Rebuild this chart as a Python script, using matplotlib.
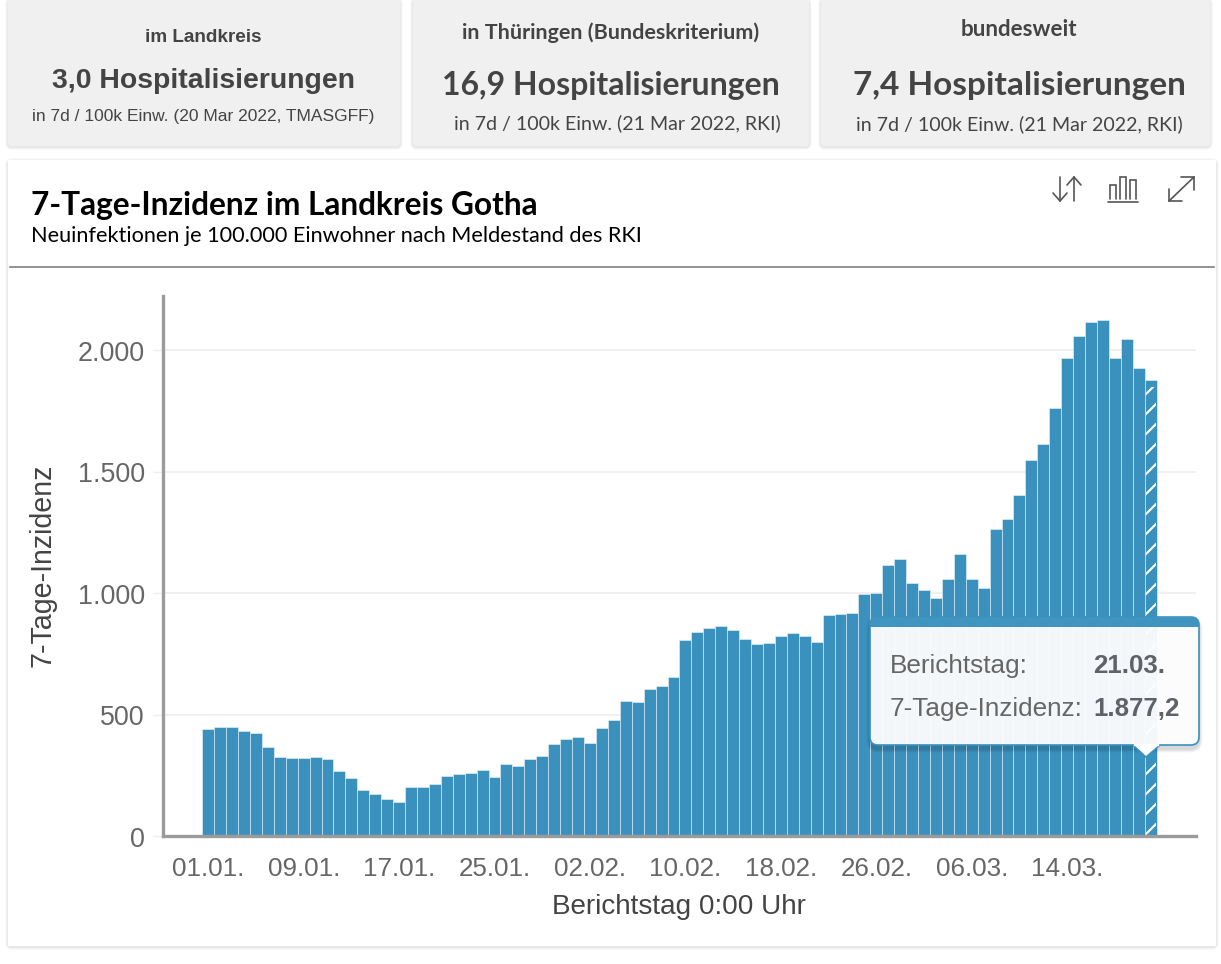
# 7-Tage-Inzidenz Landkreis Gotha, dashboard view with kpi cards on top
import matplotlib
matplotlib.use("Agg")
from matplotlib import pyplot as plt
from matplotlib.patches import FancyBboxPatch, Polygon, Rectangle

# chart data
dates = ["01.01.", "09.01.", "17.01.", "25.01.", "02.02.", "10.02.", "18.02.", "26.02.", "06.03.", "14.03."]
date_positions = [0, 8, 16, 24, 32, 40, 48, 56, 64, 72]
incidence = [
    440, 450, 449, 431, 425, 367, 325, 322, 319, 324,
    315, 268, 239, 190, 174, 153, 138, 203, 200, 215,
    246, 254, 258, 271, 243, 296, 289, 315, 328, 378,
    399, 408, 383, 444, 479, 556, 550, 603, 619, 653,
    806, 841, 856, 863, 849, 810, 790, 793, 825, 837,
    822, 799, 911, 915, 919, 995, 1001, 1114, 1138, 1041,
    1011, 978, 1056, 1160, 1056, 1019, 1262, 1305, 1403, 1548,
    1615, 1760, 1967, 2059, 2117, 2122, 1967, 2047, 1927, 1877.2,
]
y_ticks = [0, 500, 1000, 1500, 2000]
y_tick_labels = ["0", "500", "1.000", "1.500", "2.000"]

# kpi cards
card_heads = ["im Landkreis", "in Thüringen (Bundeskriterium)", "bundesweit"]
card_values = ["3,0 Hospitalisierungen", "16,9 Hospitalisierungen", "7,4 Hospitalisierungen"]
card_notes = ["in 7d / 100k Einw. (20 Mar 2022, TMASGFF)",
              "in 7d / 100k Einw. (21 Mar 2022, RKI)",
              "in 7d / 100k Einw. (21 Mar 2022, RKI)"]

W, H = 1221, 965
DPI = 120  # hatch spacing depends on the dpi, this gives about 20px with //
BLUE = "#3a91bd"
SANS = "Liberation Sans"

fig = plt.figure(figsize=(W / DPI, H / DPI), dpi=DPI, facecolor="white")

# background layer in pixel coordinates
bg = fig.add_axes([0, 0, 1, 1], zorder=0)
bg.set_xlim(0, W)
bg.set_ylim(H, 0)
bg.axis("off")


def shadow(ax, x0, y0, x1, y1, rounding=3, steps=4, alpha=0.022, zorder=1):
    for k in range(steps, 0, -1):
        ax.add_patch(FancyBboxPatch((x0 - k * 0.7, y0 - k * 0.7 + 1), x1 - x0 + k * 1.4, y1 - y0 + k * 1.4,
                                    boxstyle=f"round,pad=0,rounding_size={rounding + k}",
                                    fc="black", ec="none", alpha=alpha, zorder=zorder))


# cards
card_boxes = [(8, 400), (413, 809), (821, 1210)]
card_y = [(37, 81, 117), (33, 85, 123), (30, 86, 124)]
head_styles = [(SANS, 11.35, 17.0, 10.4), ("Lato", 12.9, 19.2, 11.8), ("Lato", 13.4, 20.0, 11.8)]
value_x = [203.5, 611, 1019]
note_x = [203.5, 617, 1019]
head_x = [203.5, 611, 1019]
for i in range(3):
    x0, x1 = card_boxes[i]
    shadow(bg, x0, 0, x1, 147)
    bg.add_patch(FancyBboxPatch((x0, -4), x1 - x0, 151, boxstyle="round,pad=0,rounding_size=3",
                                fc="#f0f0f0", ec="none", zorder=2))
    fam, s_head, s_val, s_note = head_styles[i]
    bg.text(head_x[i], card_y[i][0], card_heads[i], family=fam, weight="bold", fontsize=s_head,
            color="#444444", ha="center", va="center", zorder=3)
    bg.text(value_x[i], card_y[i][1], card_values[i], family=fam, weight="bold", fontsize=s_val,
            color="#444444", ha="center", va="center", zorder=3)
    bg.text(note_x[i], card_y[i][2], card_notes[i], family=SANS if i == 0 else "Lato", fontsize=s_note,
            color="#444444", ha="center", va="center", zorder=3)

# main panel
shadow(bg, 8, 161, 1216, 947)
bg.add_patch(Rectangle((8, 161), 1208, 786, fc="white", ec="none", zorder=2))
bg.plot([10, 1214], [268, 268], color="#808080", lw=1.0, zorder=3)
bg.text(31, 205, "7-Tage-Inzidenz im Landkreis Gotha", family="Lato", weight="bold", fontsize=18.95,
        color="black", ha="left", va="center", zorder=3)
bg.text(31, 236, "Neuinfektionen je 100.000 Einwohner nach Meldestand des RKI", family="Lato", fontsize=12.94,
        color="black", ha="left", va="center", zorder=3)

# icons top right
ic = dict(color="#555555", lw=1.0, zorder=3, solid_capstyle="round", solid_joinstyle="miter")
bg.plot([1060, 1060], [178, 202], **ic)
bg.plot([1053, 1060, 1067], [194, 202, 194], **ic)
bg.plot([1074, 1074], [202, 178], **ic)
bg.plot([1067, 1074, 1081], [186, 178, 186], **ic)
bg.plot([1108, 1138], [203, 203], **ic)
bg.plot([1110, 1110, 1116, 1116], [200, 186, 186, 200], **ic)
bg.plot([1120, 1120, 1126, 1126], [200, 178, 178, 200], **ic)
bg.plot([1130, 1130, 1136, 1136], [200, 181, 181, 200], **ic)
bg.plot([1169, 1194], [202, 178], **ic)
bg.plot([1181, 1194, 1194], [178, 178, 191], **ic)
bg.plot([1169, 1169, 1182], [190, 202, 202], **ic)

# chart axes, placed so day i sits at 208.2 + i * step pixels
step = 11.93
left, right, top, bottom = 163, 1196, 297, 837
ax = fig.add_axes([left / W, 1 - bottom / H, (right - left) / W, (bottom - top) / H], zorder=1)
ax.patch.set_alpha(0)
ax.set_xlim((left - 208.2) / step, (right - 208.2) / step)
ax.set_ylim(0, (bottom - top) * 500 / 121.5)

days = list(range(len(incidence)))
plt.rcParams["hatch.linewidth"] = 1.3
ax.bar(days, incidence, width=1.0, color=BLUE, edgecolor=(1, 1, 1, 0.45), linewidth=0.6, zorder=2)
ax.bar(days[-1:], [v - 30 for v in incidence[-1:]], width=0.86, color=BLUE, edgecolor="white", hatch="//",
       linewidth=0, zorder=2.5)

ax.set_yticks(y_ticks, y_tick_labels)
ax.set_xticks(date_positions, dates)
ax.grid(axis="y", color="#eeeeee", lw=1.0, zorder=0)
ax.tick_params(axis="y", length=6, width=0.8, color="#eeeeee", labelsize=16.1, labelcolor="#666666", pad=5)
ax.tick_params(axis="x", length=0, labelsize=15.6, labelcolor="#666666", pad=12)
for lab in ax.get_xticklabels() + ax.get_yticklabels():
    lab.set_family(SANS)
for side in ("top", "right"):
    ax.spines[side].set_visible(False)
for side in ("left", "bottom"):
    ax.spines[side].set_color("#9b9b9b")
    ax.spines[side].set_linewidth(2.0)
    ax.spines[side].set_zorder(3)

# axis titles are placed on the overlay further down
fg = fig.add_axes([0, 0, 1, 1], zorder=2)
fg.set_xlim(0, W)
fg.set_ylim(H, 0)
fg.axis("off")
fg.patch.set_alpha(0)
fg.text(679, 907, "Berichtstag 0:00 Uhr", family=SANS, fontsize=16.7, color="#444444", ha="center", va="center")
fg.text(43, 565, "7-Tage-Inzidenz", family=SANS, fontsize=17.2, color="#444444", rotation=90, ha="center", va="center")

# tooltip for the last day
tx0, tx1, ty0, ty1 = 870, 1199, 618, 746
shadow(fg, tx0, ty0 + 2, tx1, ty1 + 3, rounding=8, steps=5, alpha=0.03, zorder=1)
fg.add_patch(Polygon([(1133, ty1), (1146, 758), (1160, ty1)], closed=True, fc="white", ec=BLUE, lw=0.9, zorder=2))
box = FancyBboxPatch((tx0, ty0), tx1 - tx0, ty1 - ty0, boxstyle="round,pad=0,rounding_size=8",
                     fc=(1, 1, 1, 0.95), ec=BLUE, lw=1.0, zorder=3)
fg.add_patch(box)
band = Rectangle((tx0, ty0), tx1 - tx0, 10, fc="#4095c0", ec="none", zorder=4)
fg.add_patch(band)
band.set_clip_path(box)
fg.plot([1135, 1158], [ty1, ty1], color="white", lw=1.4, zorder=5)
fg.text(890, 666, "Berichtstag:", family=SANS, fontsize=15.7, color="#666666", ha="left", va="center", zorder=5)
fg.text(890, 709, "7-Tage-Inzidenz:", family=SANS, fontsize=15.7, color="#666666", ha="left", va="center", zorder=5)
fg.text(1093, 666, "21.03.", family=SANS, weight="bold", fontsize=15.5, color="#5f6368", ha="left", va="center", zorder=5)
fg.text(1093, 709, "1.877,2", family=SANS, weight="bold", fontsize=15.5, color="#5f6368", ha="left", va="center", zorder=5)

fig.savefig("out.png", dpi=DPI)
